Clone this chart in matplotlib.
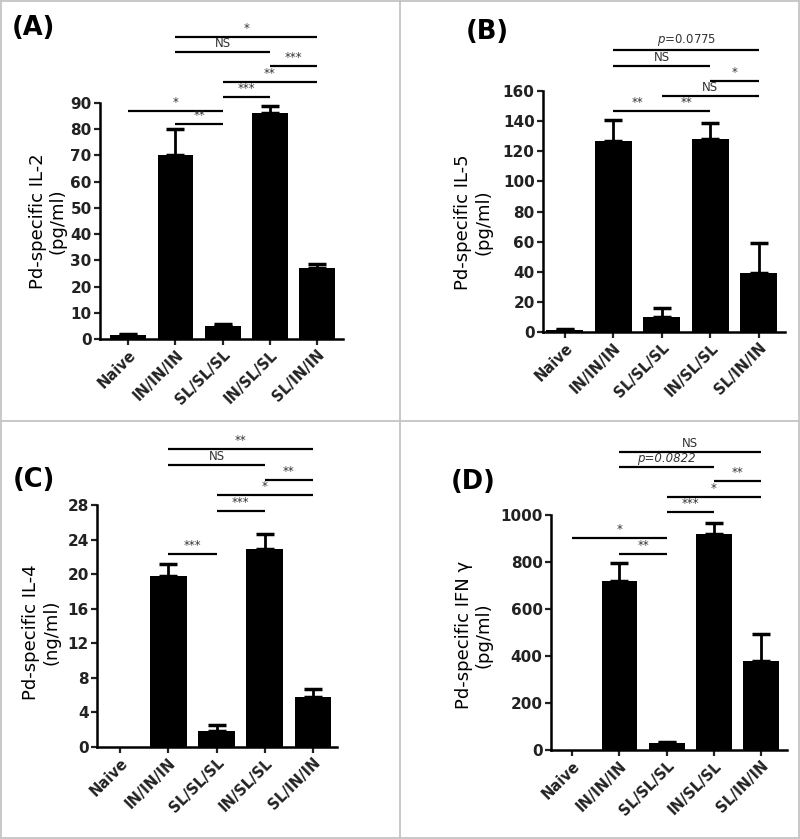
import numpy as np
import matplotlib
matplotlib.use('Agg')
import matplotlib.pyplot as plt
from matplotlib.lines import Line2D

plt.rcParams['font.family'] = 'DejaVu Sans'

W, H = 800, 839

groups = ['Naive', 'IN/IN/IN', 'SL/SL/SL', 'IN/SL/SL', 'SL/IN/IN']

il2_mean = [1.5, 70, 5, 86, 27]
il2_err = [0.5, 10, 0.8, 3, 1.5]
il5_mean = [1.5, 127, 10, 128, 39]
il5_err = [0.3, 14, 6, 11, 20]
il4_mean = [0, 19.8, 1.8, 22.9, 5.8]
il4_err = [0, 1.4, 0.7, 1.8, 0.9]
ifn_mean = [0, 720, 28, 920, 378]
ifn_err = [0, 75, 7, 45, 117]

# (from group, to group, bracket height, label)
il2_sig = [(0, 2, 87, '*'), (1, 2, 82, '**'), (2, 3, 92.4, '***'), (2, 4, 98, '**'),
           (3, 4, 104, '***'), (1, 3, 109.5, 'NS'), (1, 4, 115, '*')]
il5_sig = [(1, 2, 146.7, '**'), (2, 3, 146.7, '**'), (2, 4, 156.7, 'NS'), (3, 4, 166.9, '*'),
           (1, 3, 176.6, 'NS'), (1, 4, 187, '$p$=0.0775')]
il4_sig = [(1, 2, 22.3, '***'), (2, 3, 27.3, '***'), (2, 4, 29.1, '*'), (3, 4, 30.9, '**'),
           (1, 3, 32.6, 'NS'), (1, 4, 34.5, '**')]
ifn_sig = [(1, 2, 833, '**'), (0, 2, 901, '*'), (2, 3, 1014, '***'), (2, 4, 1078, '*'),
           (3, 4, 1145, '**'), (1, 3, 1206, 'p=0.0822'), (1, 4, 1269, 'NS')]


def add_axes_px(fig, left, right, top, bottom):
    return fig.add_axes([left / W, 1 - bottom / H, (right - left) / W, (bottom - top) / H])


def draw_panel(ax, means, errs, yticks, xlim, ylabel, ylab_xy, sigs):
    x = np.arange(len(groups))
    ax.bar(x, means, width=0.76, color='black', zorder=2)
    errs = np.array(errs)
    means = np.array(means)
    m = errs > 0
    ax.errorbar(x[m], means[m], yerr=[np.zeros(m.sum()), errs[m]], fmt='none',
                ecolor='black', elinewidth=2, capsize=6.5, capthick=2.5, zorder=3)

    ax.set_xlim(*xlim)
    ax.set_ylim(0, yticks[-1])
    ax.set_yticks(yticks)
    ax.set_xticks(x)
    ax.set_xticklabels(groups, rotation=45, ha='right', rotation_mode='anchor',
                       fontsize=10.5, fontweight='bold')
    for lab in ax.get_yticklabels():
        lab.set_fontweight('bold')
        lab.set_fontsize(11)
    ax.tick_params(direction='out', length=4, width=1.6, pad=2, colors='#222222')
    for s in ['top', 'right']:
        ax.spines[s].set_visible(False)
    for s in ['left', 'bottom']:
        ax.spines[s].set_linewidth(1.8)

    ax.set_ylabel(ylabel, fontsize=13, linespacing=1.15)
    ax.yaxis.set_label_coords(*ylab_xy)

    for i, j, y, lab in sigs:
        ax.plot([i, j], [y, y], color='black', lw=1.6, clip_on=False,
                solid_capstyle='butt')
        style = 'italic' if lab.startswith('p=') else 'normal'
        ax.annotate(lab, xy=((i + j) / 2, y), xytext=(0, 1.5), textcoords='offset points',
                    ha='center', va='bottom', fontsize=8.5, color='#333333',
                    style=style, annotation_clip=False)


fig = plt.figure(figsize=(W / 100, H / 100), dpi=100)

axA = add_axes_px(fig, 100, 343, 103, 339)
draw_panel(axA, il2_mean, il2_err, np.arange(0, 91, 10), (-0.6, 4.55),
           'Pd-specific IL-2\n(pg/ml)', (-0.136, 0.5), il2_sig)

axB = add_axes_px(fig, 543, 785, 91, 332)
draw_panel(axB, il5_mean, il5_err, np.arange(0, 161, 20), (-0.45, 4.54),
           'Pd-specific IL-5\n(pg/ml)', (-0.21, 0.456), il5_sig)

axC = add_axes_px(fig, 97, 337, 505, 747)
draw_panel(axC, il4_mean, il4_err, np.arange(0, 29, 4), (-0.48, 4.5),
           'Pd-specific IL-4\n(ng/ml)', (-0.154, 0.475), il4_sig)

axD = add_axes_px(fig, 551, 787, 515, 750)
draw_panel(axD, ifn_mean, ifn_err, np.arange(0, 1001, 200), (-0.45, 4.55),
           'Pd-specific IFN γ\n(pg/ml)', (-0.246, 0.49), ifn_sig)

# panel letters
for txt, px, py in [('(A)', 33, 28), ('(B)', 487, 32), ('(C)', 34, 480), ('(D)', 473, 482)]:
    fig.text(px / W, 1 - py / H, txt, fontsize=18.5, fontweight='bold',
             ha='center', va='center')

# grey frame around the four panels
border = '#c4c4c4'
for xs, ys in [([1, 1], [1, 838]), ([799, 799], [1, 838]), ([400, 400], [1, 838]),
               ([1, 799], [1, 1]), ([1, 799], [838, 838]), ([1, 799], [421, 421])]:
    fig.add_artist(Line2D([v / W for v in xs], [1 - v / H for v in ys],
                          color=border, lw=1.3, transform=fig.transFigure))

fig.savefig('out.png', dpi=100)
